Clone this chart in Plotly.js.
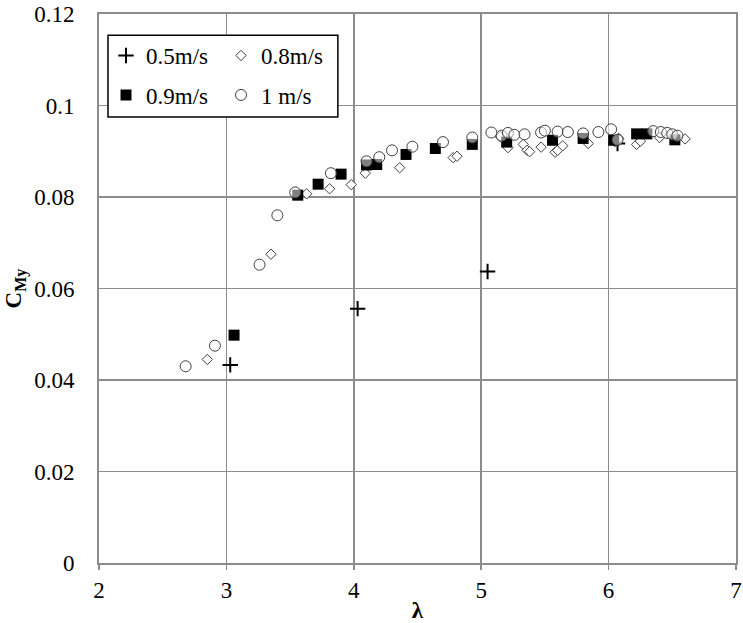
<!DOCTYPE html>
<html>
<head>
<meta charset="utf-8">
<script src="https://cdn.plot.ly/plotly-3.0.1.min.js"></script>
<style>
  html, body { margin: 0; padding: 0; background: #fff; }
  #chart { width: 743px; height: 623px; }
</style>
</head>
<body>
<div id="chart"></div>
<script>
// Tip speed ratio (λ) and pitching-moment coefficient C_My for each flow speed
const lambda05 = [3.03, 4.03, 5.05, 6.07];
const cmy05    = [0.0433, 0.0556, 0.0637, 0.0917];

const lambda08 = [2.85, 3.35, 3.63, 3.81, 3.98, 4.09, 4.36, 4.78, 4.81, 5.15, 5.21, 5.33, 5.36, 5.38,
                  5.47, 5.58, 5.60, 5.64, 5.84, 6.05, 6.08, 6.22, 6.25, 6.40, 6.52, 6.60];
const cmy08    = [0.0445, 0.0675, 0.0807, 0.0818, 0.0827, 0.0852, 0.0864, 0.0886, 0.0889, 0.0932, 0.0908, 0.0915, 0.0902, 0.0899,
                  0.0909, 0.0898, 0.0902, 0.0912, 0.0917, 0.0921, 0.0928, 0.0915, 0.0922, 0.0930, 0.0932, 0.0927];

const lambda09 = [3.06, 3.56, 3.72, 3.90, 4.10, 4.18, 4.41, 4.64, 4.93, 5.20, 5.56, 5.80, 6.04, 6.22, 6.30, 6.52];
const cmy09    = [0.0498, 0.0804, 0.0828, 0.0850, 0.0870, 0.0871, 0.0893, 0.0906, 0.0915, 0.0920, 0.0924, 0.0928, 0.0924, 0.0938, 0.0938, 0.0925];

const lambda10 = [2.68, 2.91, 3.26, 3.40, 3.54, 3.82, 4.10, 4.20, 4.30, 4.46, 4.70, 4.93, 5.08, 5.16, 5.21,
                  5.26, 5.34, 5.47, 5.50, 5.60, 5.68, 5.80, 5.92, 6.02, 6.07, 6.35, 6.41, 6.46, 6.50, 6.54];
const cmy10    = [0.0430, 0.0475, 0.0652, 0.0760, 0.0810, 0.0852, 0.0878, 0.0887, 0.0902, 0.0910, 0.0920, 0.0930, 0.0941, 0.0934, 0.0940,
                  0.0936, 0.0937, 0.0941, 0.0945, 0.0943, 0.0942, 0.0939, 0.0942, 0.0948, 0.0925, 0.0944, 0.0942, 0.0940, 0.0937, 0.0934];

const seriesNames = ['0.5m/s', '0.8m/s', '0.9m/s', '1 m/s'];

// Axis tick values and their labels
const xTicks = [2, 3, 4, 5, 6, 7];
const yTicks = [0, 0.02, 0.04, 0.06, 0.08, 0.1, 0.12];
const yTickLabels = ['0', '0.02', '0.04', '0.06', '0.08', '0.1', '0.12'];

const FONT = '"Liberation Serif", "Times New Roman", serif';
const GRID = '#8c8c8c';

const traces = [
  {
    x: lambda05, y: cmy05, name: seriesNames[0], type: 'scatter', mode: 'markers',
    legend: 'legend',
    marker: { symbol: 'cross-thin', size: 11, color: '#000', line: { color: '#000', width: 2 } }
  },
  {
    x: lambda08, y: cmy08, name: seriesNames[1], type: 'scatter', mode: 'markers',
    legend: 'legend',
    marker: { symbol: 'diamond', size: 8, color: '#fff', line: { color: '#404040', width: 1 } }
  },
  {
    x: lambda09, y: cmy09, name: seriesNames[2], type: 'scatter', mode: 'markers',
    legend: 'legend2',
    marker: { symbol: 'square', size: 11, color: '#000', line: { width: 0 } }
  },
  {
    x: lambda10, y: cmy10, name: seriesNames[3], type: 'scatter', mode: 'markers',
    legend: 'legend2',
    marker: { symbol: 'circle', size: 11, color: 'rgba(255,255,255,0.5)', line: { color: '#404040', width: 1 } }
  }
];

const legendCommon = {
  orientation: 'h',
  xref: 'paper', yref: 'paper',
  x: 0.011, xanchor: 'left', yanchor: 'middle',
  entrywidth: 70,
  bgcolor: 'rgba(0,0,0,0)',
  borderwidth: 0,
  font: { family: FONT, size: 23, color: '#000' },
  traceorder: 'normal'
};

const layout = {
  width: 743,
  height: 623,
  margin: { l: 99, r: 7, t: 14, b: 60 },
  paper_bgcolor: '#fff',
  plot_bgcolor: '#fff',
  font: { family: FONT, size: 23, color: '#000' },
  showlegend: true,
  legend:  Object.assign({}, legendCommon, { y: 0.9244 }),
  legend2: Object.assign({}, legendCommon, { y: 0.8525 }),
  xaxis: {
    range: [2, 7],
    tickmode: 'array',
    tickvals: xTicks,
    ticktext: xTicks.map(String),
    showgrid: true,
    gridcolor: GRID,
    gridwidth: 1.5,
    showline: true,
    mirror: true,
    linecolor: GRID,
    linewidth: 2,
    ticks: 'outside',
    ticklen: 5,
    tickwidth: 1.5,
    tickcolor: GRID,
    zeroline: false,
    ticklabelstandoff: 0,
    tickfont: { family: FONT, size: 23, color: '#000' },
    title: { text: '<b>λ</b>', font: { family: FONT, size: 23, color: '#000' }, standoff: 0 }
  },
  yaxis: {
    range: [0, 0.12],
    tickmode: 'array',
    tickvals: yTicks,
    ticktext: yTickLabels,
    ticklabeloverflow: 'allow',
    showgrid: true,
    gridcolor: GRID,
    gridwidth: 1.5,
    showline: true,
    mirror: true,
    linecolor: GRID,
    linewidth: 2,
    ticks: '',
    zeroline: false,
    ticklabelstandoff: 18,
    tickfont: { family: FONT, size: 23, color: '#000' },
    title: { text: '<b>C<sub>My</sub></b>', font: { family: FONT, size: 23, color: '#000' }, standoff: 6 }
  },
  shapes: [
    {
      type: 'rect', xref: 'paper', yref: 'paper', layer: 'above',
      x0: 0.0141, x1: 0.375, y0: 0.8125, y1: 0.9615,
      line: { color: '#000', width: 1.5 },
      fillcolor: '#fff'
    }
  ]
};

Plotly.newPlot('chart', traces, layout, { displayModeBar: false, staticPlot: true });
</script>
</body>
</html>
